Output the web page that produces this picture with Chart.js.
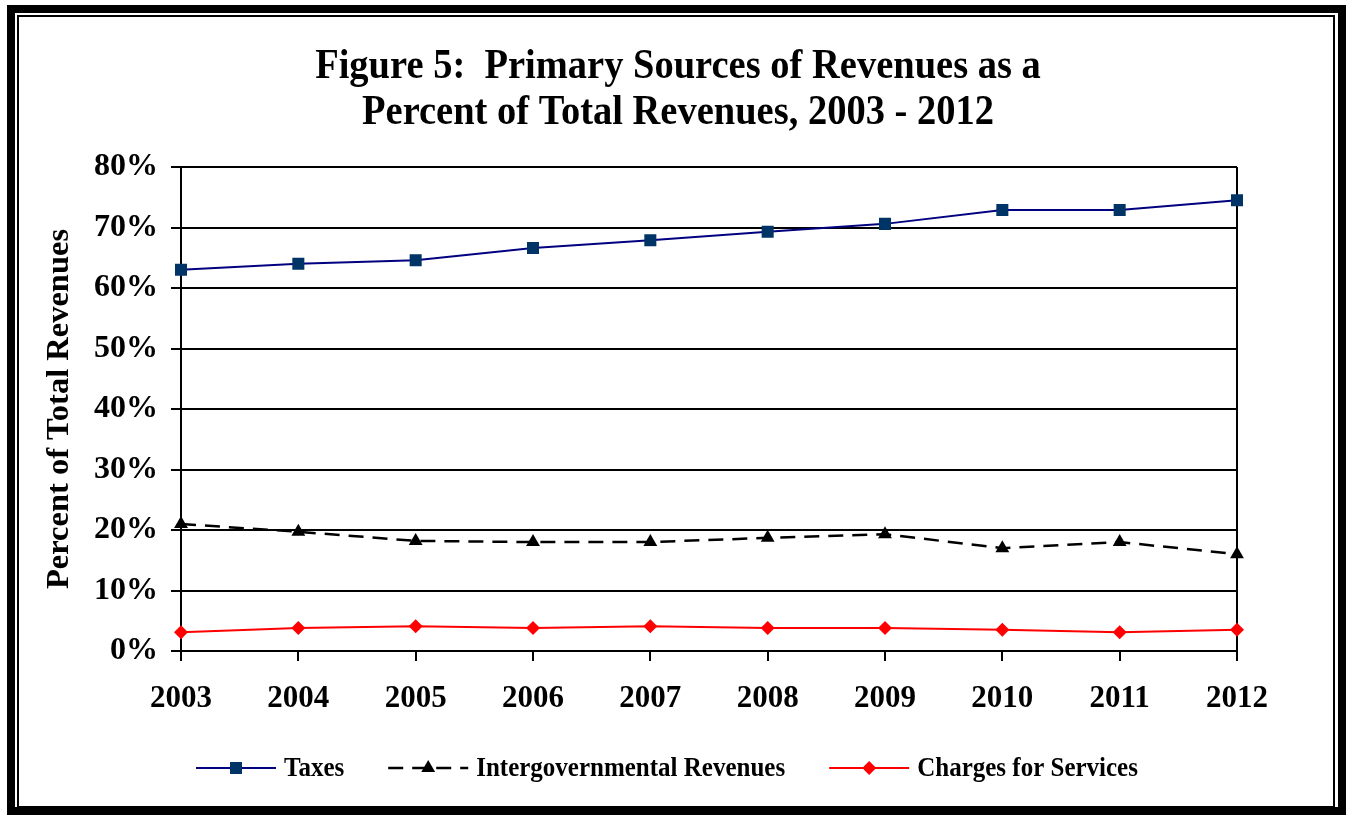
<!DOCTYPE html>
<html>
<head>
<meta charset="utf-8">
<script src="https://cdn.jsdelivr.net/npm/chart.js@4.4.1/dist/chart.umd.min.js"></script>
<style>
  html, body { margin: 0; padding: 0; background: #fff; overflow: hidden; }
  #wrap { position: relative; width: 1346px; height: 815px; overflow: hidden; }
  #revChart { position: absolute; left: 0; top: 0; }
  .frameOuter, .frameInner { position: absolute; box-sizing: border-box; pointer-events: none; }
  .frameOuter { left: 7px; top: 5px; width: 1339px; height: 810px; border: 8px solid #000; }
  .frameInner { left: 17px; top: 15px; width: 1318px; height: 793px; border: 2px solid #000; }
</style>
</head>
<body>
<div id="wrap">
  <canvas id="revChart" width="1346" height="815"></canvas>
  <div class="frameOuter"></div>
  <div class="frameInner"></div>
</div>
<script>
const years = ['2003', '2004', '2005', '2006', '2007', '2008', '2009', '2010', '2011', '2012'];
const taxes = [63.0, 64.0, 64.6, 66.6, 67.9, 69.3, 70.6, 72.9, 72.9, 74.5];
const intergov = [21.0, 19.7, 18.2, 18.0, 18.0, 18.7, 19.3, 17.0, 18.0, 16.0];
const charges = [3.1, 3.8, 4.1, 3.8, 4.1, 3.8, 3.8, 3.5, 3.1, 3.5];
const titleLines = ['Figure 5:  Primary Sources of Revenues as a', 'Percent of Total Revenues, 2003 - 2012'];

const serif = "'Liberation Serif', 'Times New Roman', serif";

// title + legend drawn by hand so the legend shows line and marker together
const extras = {
    id: 'extras',
    afterDraw(chart) {
        const c = chart.ctx;
        c.save();
        c.fillStyle = '#000';
        c.textAlign = 'center';
        c.textBaseline = 'middle';
        c.font = 'bold 38.5px ' + serif;
        // the original type is a bit taller than wide
        c.save();
        c.scale(1, 1.12);
        c.fillText(titleLines[0], 678, 67 / 1.12);
        c.fillText(titleLines[1], 678, 113 / 1.12);
        c.restore();

        const items = chart.data.datasets;
        let x = 196;
        const y = 768;
        c.font = 'bold 25px ' + serif;
        items.forEach(function(ds) {
            c.strokeStyle = ds.borderColor;
            c.lineWidth = ds.borderWidth;
            c.setLineDash(ds.borderDash || []);
            c.beginPath();
            c.moveTo(x, y);
            c.lineTo(x + 80, y);
            c.stroke();
            c.setLineDash([]);
            c.fillStyle = ds.pointBackgroundColor;
            Chart.helpers.drawPoint(c, {pointStyle: ds.pointStyle, radius: ds.pointRadius, borderWidth: 0}, x + 40, y);
            c.fillStyle = '#000';
            c.textAlign = 'left';
            c.save();
            c.scale(1, 1.1);
            c.fillText(ds.label, x + 88, (y + 1) / 1.1);
            c.restore();
            x += 88 + c.measureText(ds.label).width + 44;
        });
        c.restore();
    }
};

const ctx = document.getElementById('revChart').getContext('2d');
const revChart = new Chart(ctx, {
    type: 'line',
    data: {
        labels: years,
        datasets: [
            {
                label: 'Taxes',
                data: taxes,
                borderColor: '#000080',
                borderWidth: 2,
                pointStyle: 'rect',
                pointRadius: 8.5,
                pointBackgroundColor: '#003366',
                pointBorderWidth: 0,
                tension: 0
            },
            {
                label: 'Intergovernmental Revenues',
                data: intergov,
                borderColor: '#000000',
                borderWidth: 2.5,
                borderDash: [15, 9],
                pointStyle: 'triangle',
                pointRadius: 8,
                pointBackgroundColor: '#000000',
                pointBorderWidth: 0,
                tension: 0
            },
            {
                label: 'Charges for Services',
                data: charges,
                borderColor: '#ff0000',
                borderWidth: 2,
                pointStyle: 'rectRot',
                pointRadius: 7,
                pointBackgroundColor: '#ff0000',
                pointBorderWidth: 0,
                tension: 0
            }
        ]
    },
    options: {
        responsive: false,
        animation: false,
        layout: {
            padding: { top: 167, right: 109, bottom: 0, left: 0 }
        },
        scales: {
            y: {
                min: 0,
                max: 80,
                ticks: {
                    stepSize: 10,
                    color: '#000',
                    padding: 13,
                    font: { family: serif, size: 32, weight: 'bold' },
                    callback: function(v) { return v + '%'; }
                },
                grid: {
                    color: '#000',
                    lineWidth: 2,
                    tickLength: 10
                },
                border: { color: '#000', width: 2 },
                title: {
                    display: true,
                    text: 'Percent of Total Revenues',
                    color: '#000',
                    font: { family: serif, size: 32.5, weight: 'bold' },
                    padding: { top: 40, bottom: 0 }
                },
                afterFit: function(scale) { scale.width = 181; }
            },
            x: {
                offset: false,
                ticks: {
                    color: '#000',
                    padding: 19,
                    maxRotation: 0,
                    font: { family: serif, size: 31, weight: 'bold' }
                },
                grid: {
                    color: function(c) { return c.index === years.length - 1 ? '#000' : 'rgba(0,0,0,0)'; },
                    tickColor: '#000',
                    lineWidth: 2,
                    tickLength: 10
                },
                border: { color: '#000', width: 2 },
                afterFit: function(scale) { scale.height = 815 - 651; }
            }
        },
        plugins: {
            legend: { display: false },
            title: { display: false },
            tooltip: { enabled: false }
        }
    },
    plugins: [extras]
});
</script>
</body>
</html>
